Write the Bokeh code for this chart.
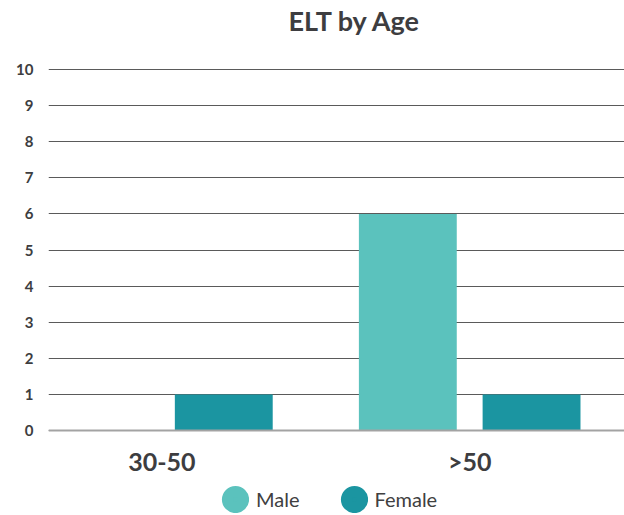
from bokeh.plotting import figure
from bokeh.models import (ColumnDataSource, Range1d, FixedTicker, Legend, LegendItem, Label)
from bokeh.transform import dodge
from bokeh.embed import file_html
from bokeh.resources import INLINE

# Data
age_groups = ["30-50", ">50"]
male = [0, 6]
female = [1, 1]
y_ticks = list(range(0, 11))

title_text = "ELT by Age"
MALE_COLOR = "#5BC2BD"
FEMALE_COLOR = "#1B95A1"
TEXT_COLOR = "#3d3d40"

positions = [i + 0.5 for i in range(len(age_groups))]
source = ColumnDataSource(dict(x=positions, group=age_groups, male=male, female=female))

# The frame covers the full page height; the title and the legend sit inside it,
# and the category axis is pinned to y = 0.
p = figure(title=None, frame_width=576, frame_height=515, output_backend="svg",
           toolbar_location=None,
           x_range=Range1d(0.1315, 2.003), y_range=Range1d(-2.355, 11.912),
           min_border_left=48, min_border_right=0, min_border_top=0, min_border_bottom=0)
p.outline_line_color = None
p.background_fill_color = "white"
p.border_fill_color = "white"

bar_w = 0.318
p.vbar(x=dodge("x", -0.201, range=p.x_range), top="male", width=bar_w, source=source,
       fill_color=MALE_COLOR, line_color=None)
p.vbar(x=dodge("x", 0.201, range=p.x_range), top="female", width=bar_w, source=source,
       fill_color=FEMALE_COLOR, line_color=None)

# Axes
p.xgrid.grid_line_color = None
p.ygrid.ticker = FixedTicker(ticks=y_ticks)
p.ygrid.grid_line_color = "#5a5a5a"
p.ygrid.grid_line_width = 1

p.yaxis.ticker = FixedTicker(ticks=y_ticks)
p.yaxis.axis_line_color = None
p.yaxis.major_tick_line_color = None
p.yaxis.minor_tick_line_color = None
p.yaxis.major_tick_out = 0
p.yaxis.minor_tick_out = 0
p.yaxis.major_label_text_font = "Lato"
p.yaxis.major_label_text_font_style = "bold"
p.yaxis.major_label_text_font_size = "15px"
p.yaxis.major_label_text_color = TEXT_COLOR
p.yaxis.major_label_standoff = 15

p.xaxis.fixed_location = 0
p.xaxis.ticker = FixedTicker(ticks=positions)
p.xaxis.major_label_overrides = {pos: g for pos, g in zip(positions, age_groups)}
p.xaxis.axis_line_color = "#a3a3a3"
p.xaxis.axis_line_width = 2
p.xaxis.major_tick_line_color = None
p.xaxis.minor_tick_line_color = None
p.xaxis.major_tick_out = 0
p.xaxis.minor_tick_out = 0
p.xaxis.major_label_text_font = "Lato"
p.xaxis.major_label_text_font_style = "bold"
p.xaxis.major_label_text_font_size = "25px"
p.xaxis.major_label_text_color = TEXT_COLOR
p.xaxis.major_label_standoff = 16

# Title
p.add_layout(Label(x=1.1273, y=11.36, text=title_text, text_align="center",
                   text_baseline="alphabetic", text_font="Lato", text_font_style="bold",
                   text_font_size="27px", text_color=TEXT_COLOR))

# Legend swatches: round markers that carry no visible points
no_y = [float("nan")] * len(positions)
r_m = p.scatter(x=positions, y=no_y, marker="circle", size=11, fill_color=MALE_COLOR,
                line_color=MALE_COLOR, line_width=16)
r_f = p.scatter(x=positions, y=no_y, marker="circle", size=11, fill_color=FEMALE_COLOR,
                line_color=FEMALE_COLOR, line_width=16)
legend = Legend(items=[LegendItem(label="Male", renderers=[r_m]),
                       LegendItem(label="Female", renderers=[r_f])],
                orientation="horizontal", location=(173, 2),
                glyph_width=28, glyph_height=28, label_standoff=7, spacing=40,
                padding=0, margin=0, border_line_color=None, background_fill_alpha=0,
                label_text_font="Lato", label_text_font_size="20px",
                label_text_color="#404040")
p.add_layout(legend, "center")

open("out.html", "w").write(file_html(p, INLINE))
